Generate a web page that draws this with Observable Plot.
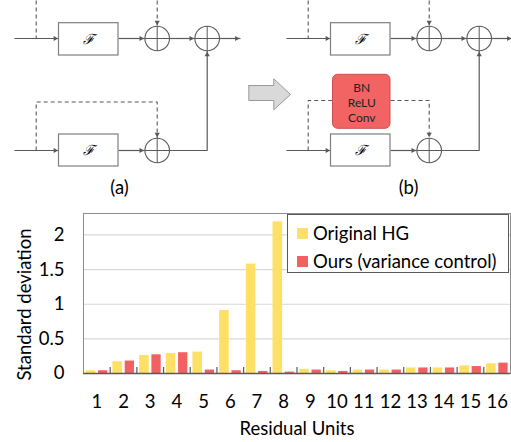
<!DOCTYPE html>
<html><head><meta charset="utf-8">
<script src="https://cdn.jsdelivr.net/npm/d3@7"></script>
<script src="https://cdn.jsdelivr.net/npm/@observablehq/plot@0.6"></script>
<style>
body{margin:0;background:#fff;font-family:Lato,sans-serif;}
#wrap{position:relative;width:511px;height:442px;overflow:hidden;}
#wrap svg{display:block;}
#legend{position:absolute;left:287px;top:214px;width:220px;height:57px;border:1px solid #595959;background:#fff;font:18.5px Lato,sans-serif;color:#000;}
#legend .row{position:absolute;left:9px;display:flex;align-items:center;white-space:nowrap;line-height:22px;}
#legend .sw{display:inline-block;width:11px;height:11px;margin-right:5px;}
</style></head><body><div id="wrap"></div>
<script>
// ---- chart data ----
const units = [1,2,3,4,5,6,7,8,9,10,11,12,13,14,15,16];
const originalHG = [0.04,0.17,0.26,0.29,0.31,0.91,1.58,2.19,0.06,0.04,0.05,0.05,0.08,0.08,0.11,0.14];
const oursVC     = [0.04,0.18,0.27,0.30,0.05,0.04,0.03,0.02,0.05,0.03,0.05,0.05,0.08,0.08,0.10,0.15];
const seriesNames = ["Original HG","Ours (variance control)"];
const seriesColors = ["#FFE066","#F26161"];
const yTicks = [0,0.5,1,1.5,2];
const xTitle = "Residual Units";
const yTitle = "Standard deviation";

// ---- schematic data (panel (a) coordinates, panel (b) shifted) ----
const panelOffsets = [0, 272];
const panelLabels = ["(a)", "(b)"];
const panelLabelX = [119, 136];
const blocks = [{x1:58.5,x2:118,y1:22.7,y2:55},{x1:58.5,x2:118,y1:134,y2:166}];
const blockLabel = "ℱ";
const sums = [{x:156.7,y:38},{x:206.7,y:38},{x:156.7,y:150}];
const sumR = 12.3;
const wires = [
  {dash:false, arrow:true,  pts:[[14,38],[58.5,38]]},
  {dash:false, arrow:true,  pts:[[118,38],[144.4,38]]},
  {dash:false, arrow:true,  pts:[[169,38],[194.4,38]]},
  {dash:false, arrow:true,  pts:[[219,38],[240,38]]},
  {dash:true,  arrow:false, pts:[[35.7,0],[35.7,38]]},
  {dash:true,  arrow:true,  pts:[[156.7,0],[156.7,25.7]]},
  {dash:false, arrow:true,  pts:[[14,150],[58.5,150]]},
  {dash:false, arrow:true,  pts:[[118,150],[144.4,150]]},
  {dash:false, arrow:true,  pts:[[169,150],[206.7,150],[206.7,50.3]]}
];
const skipWires = [
  [{dash:true, arrow:true, pts:[[35.7,150],[35.7,101.5],[156.7,101.5],[156.7,137.7]]}],
  [{dash:true, arrow:false, pts:[[35.7,150],[35.7,100],[60.5,100]]},
   {dash:true, arrow:true,  pts:[[118,100],[156.7,100],[156.7,137.7]]}]
];
const convBlock = [{x1:60.5,x2:118,y1:74.3,y2:128.3,label:"BN\nReLU\nConv"}];
const shiftArrow = [[248.3,85],[273.3,85],[273.3,78.3],[290,94],[273.3,109.3],[273.3,100],[248.3,100],[248.3,85]];

const ink = "#595959";
const FS = 18.5;

// build schematic geometry
const allWires = [];
panelOffsets.forEach((off,p)=>{
  wires.concat(skipWires[p]).forEach((w,i)=>allWires.push({...w, id:p+"-"+i, off}));
});
const linePts = allWires.flatMap(w => w.pts.map(([x,y]) => ({x:x+w.off, y, id:w.id, dash:w.dash})));
const headR = 2.5;
const tipOffset = 2*Math.sqrt(Math.PI*headR*headR/(Math.sqrt(3)*3));
const heads = allWires.filter(w=>w.arrow).map(w=>{
  const a = w.pts[w.pts.length-2], b = w.pts[w.pts.length-1];
  const dx=b[0]-a[0], dy=b[1]-a[1], L=Math.hypot(dx,dy);
  return {x:b[0]+w.off - tipOffset*dx/L, y:b[1] - tipOffset*dy/L, rot: Math.atan2(dx,-dy)*180/Math.PI};
});
const pBlocks = panelOffsets.flatMap(off=>blocks.map(b=>({...b, x1:b.x1+off, x2:b.x2+off})));
const pSums = panelOffsets.flatMap(off=>sums.map(s=>({x:s.x+off, y:s.y})));
const pConv = convBlock.map(b=>({...b, x1:b.x1+panelOffsets[1], x2:b.x2+panelOffsets[1]}));
const pLabels = panelLabels.map((t,i)=>({t, x:panelLabelX[i]+panelOffsets[i]}));
const arrowPts = shiftArrow.map(([x,y])=>({x,y}));

const diagram = Plot.plot({
  width:511, height:200, margin:0,
  style:{fontFamily:"Lato, sans-serif", background:"#fff", color:"#000"},
  x:{domain:[0,511], range:[0,511], axis:null},
  y:{domain:[0,200], range:[0,200], axis:null},
  marks:[
    Plot.line(arrowPts, {x:"x", y:"y", fill:"#D9D9D9", stroke:"#9a9a9a", strokeWidth:1, curve:"linear"}),
    Plot.line(linePts.filter(d=>!d.dash), {x:"x", y:"y", z:"id", stroke:ink, strokeWidth:1.2, strokeLinecap:"butt", strokeLinejoin:"miter"}),
    Plot.line(linePts.filter(d=>d.dash), {x:"x", y:"y", z:"id", stroke:ink, strokeWidth:1.1, strokeDasharray:"4,3", strokeLinecap:"butt", strokeLinejoin:"miter"}),
    Plot.dot(heads, {x:"x", y:"y", r:headR, symbol:"triangle2", rotate:"rot", fill:ink, stroke:"none"}),
    Plot.rect(pBlocks, {x1:"x1", x2:"x2", y1:"y1", y2:"y2", fill:"#fff", stroke:"#7f7f7f", strokeWidth:1.2}),
    Plot.text(pBlocks, {x:d=>(d.x1+d.x2)/2, y:d=>(d.y1+d.y2)/2, text:()=>blockLabel, fontFamily:"DejaVu Serif", fontStyle:"italic", fontSize:14}),
    Plot.rect(pConv, {x1:"x1", x2:"x2", y1:"y1", y2:"y2", rx:5, fill:"#F26464", stroke:"#C85050", strokeWidth:1}),
    Plot.text(pConv, {x:d=>(d.x1+d.x2)/2, y:d=>(d.y1+d.y2)/2, text:"label", fontSize:12, lineHeight:1.25, fill:"#222"}),
    Plot.dot(pSums, {x:"x", y:"y", r:sumR, fill:"#fff", stroke:ink, strokeWidth:1.1}),
    Plot.link(pSums, {x1:d=>d.x-sumR, x2:d=>d.x+sumR, y1:"y", y2:"y", stroke:ink, strokeWidth:1}),
    Plot.link(pSums, {x1:"x", x2:"x", y1:d=>d.y-sumR, y2:d=>d.y+sumR, stroke:ink, strokeWidth:1}),
    Plot.text(pLabels, {x:"x", y:()=>188, text:"t", fontSize:FS})
  ]
});

// ---- bar chart ----
const W=511, H=242, mL=83, mR=1, mT=13, mB=69;
const yMax = 2.31;
const innerH = H - mT - mB;
const chart = Plot.plot({
  width:W, height:H, marginLeft:mL, marginRight:mR, marginTop:mT, marginBottom:mB,
  style:{fontFamily:"Lato, sans-serif", fontSize:FS+"px", color:"#000", background:"#fff"},
  x:{type:"linear", domain:[0.5,16.5], axis:null},
  y:{domain:[0,yMax], axis:null},
  marks:[
    Plot.gridY(yTicks.filter(t=>t>0), {stroke:"#d9d9d9", strokeOpacity:1, strokeWidth:1.2}),
    Plot.rectY(units, {x1:d=>d-0.5, x2:d=>d+0.5, y:(d,i)=>originalHG[i], fill:seriesColors[0], insetLeft:2.7, insetRight:14.4}),
    Plot.rectY(units, {x1:d=>d-0.5, x2:d=>d+0.5, y:(d,i)=>oursVC[i], fill:seriesColors[1], insetLeft:15, insetRight:2.4}),
    Plot.ruleX(units.slice(0,-1), {x:d=>d+0.5, y1:0, y2:yMax*6/innerH, stroke:ink, strokeWidth:1.2}),
    Plot.frame({stroke:"#8c8c8c"}),
    Plot.ruleY([0], {stroke:ink, strokeWidth:1.5}),
    Plot.axisY(yTicks, {tickSize:0, tickPadding:19, fontSize:FS, tickFormat:d=>String(d), label:null}),
    Plot.axisX(units, {tickSize:0, tickPadding:21, fontSize:FS, tickFormat:d=>String(d), label:null}),
    Plot.text([xTitle], {frameAnchor:"bottom", dy:61, lineAnchor:"bottom", fontSize:FS}),
    Plot.text([yTitle], {frameAnchor:"left", textAnchor:"middle", rotate:-90, dx:-58, dy:11, fontSize:FS})
  ]
});

const wrap = document.getElementById("wrap");
wrap.appendChild(diagram);
wrap.appendChild(chart);

const legend = document.createElement("div");
legend.id = "legend";
seriesNames.forEach((n,i)=>{
  const row = document.createElement("div");
  row.className = "row";
  row.style.top = (i===0 ? 7 : 35) + "px";
  const sw = document.createElement("span");
  sw.className = "sw"; sw.style.background = seriesColors[i];
  const tx = document.createElement("span");
  tx.textContent = n;
  row.appendChild(sw); row.appendChild(tx);
  legend.appendChild(row);
});
wrap.appendChild(legend);
</script>
</body></html>
